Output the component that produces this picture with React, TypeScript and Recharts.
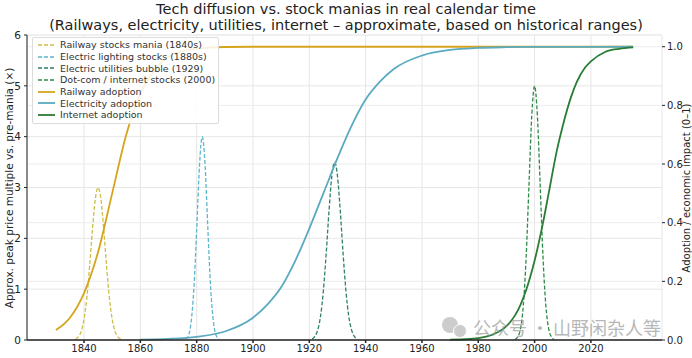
import React from "react"
import { LineChart, Line, XAxis, YAxis, CartesianGrid, Legend } from "recharts"

// years / values
const railwayManiaYears = [1837, 1838, 1839, 1840, 1841, 1842, 1843, 1844, 1845, 1846, 1847, 1848, 1849, 1850, 1851, 1852, 1853]
const railwayManiaValues = [0.02, 0.06, 0.17, 0.41, 0.83, 1.46, 2.18, 2.77, 3.0, 2.77, 2.18, 1.46, 0.83, 0.41, 0.17, 0.06, 0.02]

const lightingYears = [1876, 1877, 1878, 1879, 1880, 1881, 1882, 1883, 1884, 1885, 1886, 1887, 1888]
const lightingValues = [0.02, 0.08, 0.34, 1.0, 2.16, 3.43, 4.0, 3.43, 2.16, 1.0, 0.34, 0.08, 0.02]

const utilitiesYears = [1921, 1922, 1923, 1924, 1925, 1926, 1927, 1928, 1929, 1930, 1931, 1932, 1933, 1934, 1935, 1936, 1937]
const utilitiesValues = [0.02, 0.07, 0.2, 0.47, 0.97, 1.7, 2.54, 3.23, 3.5, 3.23, 2.54, 1.7, 0.97, 0.47, 0.2, 0.07, 0.02]

const dotcomYears = [1993, 1994, 1995, 1996, 1997, 1998, 1999, 2000, 2001, 2002, 2003, 2004, 2005, 2006, 2007]
const dotcomValues = [0.01, 0.06, 0.22, 0.68, 1.62, 3.03, 4.41, 5.0, 4.41, 3.03, 1.62, 0.68, 0.22, 0.06, 0.01]

const railwayYears = [1830, 1835, 1840, 1845, 1850, 1855, 1860, 1865, 1870, 1875, 1880, 1890, 1900, 1950, 2000, 2035]
const railwayAdoption = [0.034, 0.076, 0.16, 0.3, 0.5, 0.7, 0.84, 0.92, 0.966, 0.985, 0.993, 0.999, 1, 1, 1, 1]

const electricityYears = [1860, 1870, 1880, 1890, 1900, 1905, 1910, 1915, 1920, 1925, 1930, 1935, 1940, 1945, 1950, 1960, 1970, 1980, 1990, 2000, 2035]
const electricityAdoption = [0.0015, 0.004, 0.011, 0.029, 0.076, 0.12, 0.18, 0.27, 0.38, 0.5, 0.62, 0.73, 0.82, 0.88, 0.924, 0.97, 0.989, 0.996, 0.9985, 0.9994, 1]

const internetYears = [1970, 1975, 1980, 1985, 1990, 1993, 1995, 1998, 2000, 2003, 2005, 2008, 2010, 2013, 2015, 2018, 2020, 2025, 2030, 2035]
const internetAdoption = [0.001, 0.0025, 0.0067, 0.018, 0.047, 0.083, 0.12, 0.2, 0.27, 0.4, 0.5, 0.65, 0.73, 0.83, 0.88, 0.93, 0.95, 0.982, 0.993, 0.998]

const xTicks = [1840, 1860, 1880, 1900, 1920, 1940, 1960, 1980, 2000, 2020]
const leftTicks = [0, 1, 2, 3, 4, 5, 6]
const rightTicks = [0, 0.2, 0.4, 0.6, 0.8, 1.0]

const toPoints = (years: number[], values: number[]) => years.map((year, i) => ({ year, v: values[i] }))

const series = [
  { name: "Railway stocks mania (1840s)", data: toPoints(railwayManiaYears, railwayManiaValues), color: "#cbbf45", dash: "4 2", axis: "left", width: 1.3 },
  { name: "Electric lighting stocks (1880s)", data: toPoints(lightingYears, lightingValues), color: "#5cb6cc", dash: "4 2", axis: "left", width: 1.3 },
  { name: "Electric utilities bubble (1929)", data: toPoints(utilitiesYears, utilitiesValues), color: "#2f7f6c", dash: "4 2", axis: "left", width: 1.3 },
  { name: "Dot-com / internet stocks (2000)", data: toPoints(dotcomYears, dotcomValues), color: "#2e8a48", dash: "4 2", axis: "left", width: 1.3 },
  { name: "Railway adoption", data: toPoints(railwayYears, railwayAdoption), color: "#d6a41c", dash: undefined, axis: "right", width: 1.8 },
  { name: "Electricity adoption", data: toPoints(electricityYears, electricityAdoption), color: "#5aaac0", dash: undefined, axis: "right", width: 1.8 },
  { name: "Internet adoption", data: toPoints(internetYears, internetAdoption), color: "#2a7d36", dash: undefined, axis: "right", width: 1.8 },
]

const font = "DejaVu Sans, sans-serif"

function LegendBox() {
  return (
    <div
      style={{
        background: "rgba(255,255,255,0.85)",
        border: "1px solid #dcdcdc",
        borderRadius: 2,
        padding: "1px 3px 2px 5px",
        fontFamily: font,
        fontSize: 9.5,
        color: "#333",
      }}
    >
      {series.map((s) => (
        <div key={s.name} style={{ display: "flex", alignItems: "center", height: 11.7 }}>
          <svg width={17} height={6} style={{ marginRight: 5 }}>
            <line x1={0} y1={3} x2={17} y2={3} stroke={s.color} strokeWidth={s.width} strokeDasharray={s.dash} />
          </svg>
          <span style={{ whiteSpace: "nowrap" }}>{s.name}</span>
        </div>
      ))}
    </div>
  )
}

export default function App() {
  return (
    <div style={{ position: "absolute", left: 0, top: 0, width: 692, height: 358, background: "#fff", fontFamily: font }}>
      <div
        style={{
          position: "absolute",
          top: 1,
          left: 0,
          width: 692,
          textAlign: "center",
          fontSize: 14.5,
          lineHeight: "16px",
          color: "#222",
        }}
      >
        Tech diffusion vs. stock manias in real calendar time
        <br />
        (Railways, electricity, utilities, internet – approximate, based on historical ranges)
      </div>

      <LineChart width={692} height={358} margin={{ top: 35, right: 0, bottom: 0, left: 0 }} style={{ position: "absolute", left: 0, top: 0 }}>
        <CartesianGrid yAxisId="left" stroke="#e6e6e6" />
        <CartesianGrid yAxisId="right" stroke="#ececec" vertical={false} />
        <XAxis
          type="number"
          dataKey="year"
          domain={[1819.75, 2045.25]}
          ticks={xTicks}
          height={18}
          tickSize={3}
          tickMargin={2}
          stroke="#222"
          strokeWidth={1.5}
          tick={{ fontSize: 10, fill: "#222", fontFamily: font }}
        />
        <YAxis
          yAxisId="left"
          domain={[0, 6]}
          ticks={leftTicks}
          width={27}
          tickSize={3}
          tickMargin={3}
          stroke="#222"
          tick={{ fontSize: 10.5, fill: "#222", fontFamily: font }}
        />
        <YAxis
          yAxisId="right"
          orientation="right"
          domain={[0, 1.04]}
          ticks={rightTicks}
          width={30}
          axisLine={false}
          tickSize={3}
          tickMargin={2}
          stroke="#222"
          tickFormatter={(v: number) => v.toFixed(1)}
          tick={{ fontSize: 10, fill: "#222", fontFamily: font }}
        />
        <Legend
          layout="vertical"
          align="center"
          verticalAlign="middle"
          wrapperStyle={{ position: "absolute", left: 32, top: 37, width: "auto" }}
          content={() => <LegendBox />}
        />
        {series.map((s) => (
          <Line
            key={s.name}
            yAxisId={s.axis}
            data={s.data}
            dataKey="v"
            name={s.name}
            type="monotone"
            stroke={s.color}
            strokeWidth={s.width}
            strokeDasharray={s.dash}
            dot={false}
            activeDot={false}
            isAnimationActive={false}
          />
        ))}
      </LineChart>

      <svg width={692} height={358} style={{ position: "absolute", left: 0, top: 0, pointerEvents: "none" }}>
        <text x={10} y={188} transform="rotate(-90 10 188)" textAnchor="middle" dominantBaseline="middle" fontSize={10.5} fill="#222" fontFamily={font}>
          Approx. peak price multiple vs. pre-mania (×)
        </text>
        <text x={687} y={188} transform="rotate(-90 687 188)" textAnchor="middle" dominantBaseline="middle" fontSize={10} fill="#222" fontFamily={font}>
          Adoption / economic impact (0–1)
        </text>
        <g opacity={0.5}>
          <circle cx={450} cy={325} r={8} fill="#9a9a9a" />
          <circle cx={460} cy={331} r={6.5} fill="#9a9a9a" stroke="#fff" strokeWidth={1} />
        </g>
        <text x={473} y={335} fontSize={18} fill="#9a9a9a" opacity={0.7} fontFamily="Noto Sans CJK SC, sans-serif">
          公众号 · 山野闲杂人等
        </text>
      </svg>
    </div>
  )
}
